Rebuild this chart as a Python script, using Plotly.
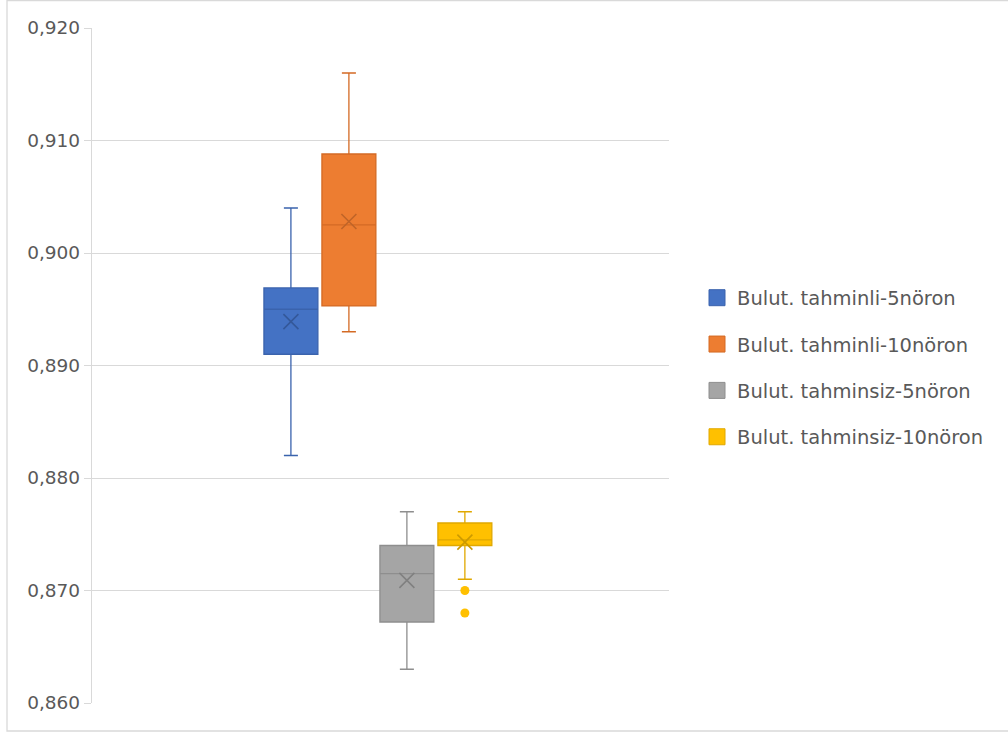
import plotly.graph_objects as go

# Box statistics per series (accuracy values)
series = [
    "Bulut. tahminli-5nöron",
    "Bulut. tahminli-10nöron",
    "Bulut. tahminsiz-5nöron",
    "Bulut. tahminsiz-10nöron",
]
lower_whisker = [0.882, 0.893, 0.863, 0.871]
q1 = [0.891, 0.8953, 0.8672, 0.874]
median = [0.895, 0.9025, 0.8715, 0.8745]
q3 = [0.8969, 0.9088, 0.874, 0.876]
upper_whisker = [0.904, 0.916, 0.877, 0.877]
mean = [0.8939, 0.9028, 0.8709, 0.8743]
outliers = [[], [], [], [0.870, 0.868]]

fill_colors = ["#4472C4", "#ED7D31", "#A5A5A5", "#FFC000"]
line_colors = ["#3A63AD", "#D46A24", "#8E8E8E", "#E0A800"]
mean_colors = ["#34589A", "#BF6428", "#808080", "#CC9A00"]

y_ticks = [0.86, 0.87, 0.88, 0.89, 0.90, 0.91, 0.92]

FONT = "DejaVu Sans"
TEXT = "#595959"
GRID = "#D9D9D9"

fig = go.Figure()

for i, name in enumerate(series):
    fig.add_trace(go.Box(
        x=[i],
        q1=[q1[i]], median=[median[i]], q3=[q3[i]],
        lowerfence=[lower_whisker[i]], upperfence=[upper_whisker[i]],
        name=name,
        width=0.93,
        whiskerwidth=0.26,
        fillcolor=fill_colors[i],
        line=dict(color=line_colors[i], width=1.3),
        boxpoints=False,
        showlegend=False,
        hoverinfo="skip",
    ))
    # mean shown as an X
    fig.add_trace(go.Scatter(
        x=[i], y=[mean[i]], mode="markers",
        marker=dict(symbol="x-thin", size=15,
                    line=dict(color=mean_colors[i], width=1.6)),
        showlegend=False, hoverinfo="skip",
    ))
    if outliers[i]:
        fig.add_trace(go.Scatter(
            x=[i] * len(outliers[i]), y=outliers[i], mode="markers",
            marker=dict(symbol="circle", size=9, color=fill_colors[i]),
            showlegend=False, hoverinfo="skip",
        ))
    # legend swatch
    fig.add_trace(go.Scatter(
        x=[None], y=[None], mode="markers", name=name,
        legendgroup=name,
        marker=dict(symbol="square", size=16, color=fill_colors[i],
                    line=dict(color=line_colors[i], width=1)),
    ))

fig.update_layout(
    width=1008, height=735,
    margin=dict(l=92, r=339, t=28, b=32),
    paper_bgcolor="white", plot_bgcolor="white",
    separators=",.",
    font=dict(family=FONT, size=18.5, color=TEXT),
    showlegend=True,
    legend=dict(
        x=(697 - 92) / 577, xanchor="left",
        y=0.497, yanchor="middle",
        traceorder="grouped", tracegroupgap=18,
        font=dict(family=FONT, size=19.5, color=TEXT),
        bgcolor="rgba(0,0,0,0)",
    ),
    xaxis=dict(
        range=[-3.43, 6.52], showgrid=False, zeroline=False,
        showticklabels=False, showline=False, ticks="",
        fixedrange=True,
    ),
    yaxis=dict(
        range=[0.86, 0.92], tickvals=y_ticks, tickformat=".3f",
        showgrid=True, gridcolor=GRID, gridwidth=1.3,
        zeroline=False,
        showline=True, linecolor=GRID, linewidth=1.3,
        ticks="outside", ticklen=7, tickcolor=GRID, tickwidth=1.3,
        tickfont=dict(family=FONT, size=18.5, color=TEXT),
    ),
    shapes=[dict(
        type="rect", xref="paper", yref="paper",
        x0=(7 - 92) / 577, x1=(1012 - 92) / 577,
        y0=(703 - 731) / 675, y1=(703 - 0.5) / 675,
        line=dict(color=GRID, width=1.3), fillcolor="rgba(0,0,0,0)",
        layer="below",
    )],
)

fig.write_html("out.html")
